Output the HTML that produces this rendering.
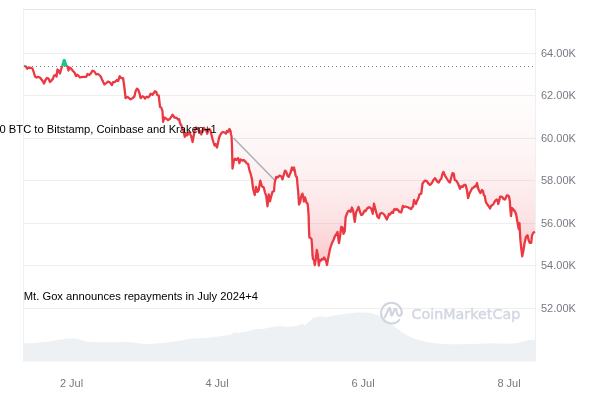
<!DOCTYPE html>
<html><head><meta charset="utf-8"><style>
html,body{margin:0;padding:0;background:#fff;width:600px;height:400px;overflow:hidden}
svg{display:block}
.ax{font-family:"Liberation Sans",Arial,sans-serif;font-size:11px;fill:#757982}
.ann{font-family:"Liberation Sans",Arial,sans-serif;font-size:11.2px;fill:#000}
.wm{font-family:"DejaVu Sans",sans-serif;font-size:14.3px;font-weight:normal;fill:#d2d7e1;stroke:#d2d7e1;stroke-width:0.45px}
</style></head><body>
<svg width="600" height="400" viewBox="0 0 600 400">
<defs>
<linearGradient id="rg" x1="0" y1="66.5" x2="0" y2="266" gradientUnits="userSpaceOnUse">
<stop offset="0" stop-color="#ea3943" stop-opacity="0"/>
<stop offset="0.25" stop-color="#ea3943" stop-opacity="0.022"/>
<stop offset="0.5" stop-color="#ea3943" stop-opacity="0.065"/>
<stop offset="0.6" stop-color="#ea3943" stop-opacity="0.09"/>
<stop offset="0.75" stop-color="#ea3943" stop-opacity="0.14"/>
<stop offset="0.9" stop-color="#ea3943" stop-opacity="0.22"/>
<stop offset="1" stop-color="#ea3943" stop-opacity="0.29"/>
</linearGradient>
<linearGradient id="gg" x1="0" y1="66.5" x2="0" y2="58" gradientUnits="userSpaceOnUse">
<stop offset="0" stop-color="#16c784" stop-opacity="0.02"/>
<stop offset="1" stop-color="#16c784" stop-opacity="0.25"/>
</linearGradient>
<clipPath id="below"><rect x="0" y="66" width="600" height="400"/></clipPath>
<clipPath id="above"><rect x="0" y="0" width="600" height="66"/></clipPath>
</defs>
<rect x="0" y="0" width="600" height="400" fill="#fff"/>
<line x1="24" x2="535" y1="53.5" y2="53.5" stroke="#efefef" stroke-width="1"/>
<line x1="24" x2="535" y1="95.5" y2="95.5" stroke="#efefef" stroke-width="1"/>
<line x1="24" x2="535" y1="138.5" y2="138.5" stroke="#efefef" stroke-width="1"/>
<line x1="24" x2="535" y1="180.5" y2="180.5" stroke="#efefef" stroke-width="1"/>
<line x1="24" x2="535" y1="223.5" y2="223.5" stroke="#efefef" stroke-width="1"/>
<line x1="24" x2="535" y1="265.5" y2="265.5" stroke="#efefef" stroke-width="1"/>
<line x1="24" x2="535" y1="308.5" y2="308.5" stroke="#efefef" stroke-width="1"/>
<line x1="20.5" x2="20.5" y1="10" y2="361" stroke="#fbfbfb"/>
<line x1="23.5" x2="23.5" y1="9" y2="361.5" stroke="#f1f1f1"/>
<line x1="535.5" x2="535.5" y1="9" y2="361.5" stroke="#f0f0f0"/>
<line x1="23" x2="536" y1="9.5" y2="9.5" stroke="#e5e5e5"/>
<path d="M23.5,360 L23.5,342.75 L28.7,343.4 L35.2,342.75 L41.7,342.3 L48.2,341.7 L54.7,340.6 L61.2,339.5 L67.7,338.4 L74.2,338.4 L80.7,339.5 L87.2,341.7 L93.7,342.3 L100.2,342.3 L106.7,342.3 L115.3,342.3 L124,342.1 L132.7,342.3 L139.2,343.4 L150,344 L160.8,342.9 L171.7,342.1 L182.5,340.3 L189,338.8 L199.8,338.2 L210.7,337.5 L221.5,336 L230.2,334.9 L234.5,332.3 L238.8,332.8 L247.5,331.2 L256.2,328.9 L262.7,329.1 L271.3,327.3 L278.7,326 L287.3,326.7 L296,326 L300.3,324.3 L302.5,323.4 L304.7,325.6 L309,321.7 L313.3,317.8 L319.8,316.3 L326.3,317.3 L332.8,315.6 L339.3,314.7 L348,313.4 L356.7,312.4 L365.3,312.4 L371.8,313 L378.3,315.6 L387,320.6 L395,327 L404.7,334.2 L414.3,338.5 L424,341.4 L433.7,343.3 L448.2,344.3 L462.7,344.3 L477.2,343.8 L491.7,343.3 L506.2,343.8 L515.8,343.3 L523.1,341.4 L526.7,340.2 L535.5,339.5 L535.5,360 Z" fill="#eef1f4"/>
<rect x="23" y="360" width="513" height="1.4" fill="#efefef"/>
<path d="M24,65.8 L26,66.6 L27.2,68.8 L28.5,67.5 L30.5,67.8 L32.5,68.5 L34,73 L35,76.5 L36.5,77.5 L38,76.8 L40,77.5 L41.5,79.5 L43,81.5 L44,83.5 L45.5,80 L47,78 L48.5,78.5 L50,82 L51.5,80.5 L53,78.5 L54,75.5 L55.5,75 L56.5,76.5 L57.5,69.5 L58.5,70.5 L60,73.5 L61,69.5 L62.2,66 L63.8,60.2 L64.6,60.2 L66.3,65.5 L67.5,66.5 L68.5,70.5 L69.5,67.5 L71,68.5 L73,71 L74.5,72.5 L76,76 L77.5,74.75 L80,77.5 L82.5,76.9 L86.25,76.9 L87.5,74 L89.4,75 L90.6,73.75 L92.5,70.6 L94.4,71.5 L96.25,74.4 L98.1,74 L100.6,76.25 L102.5,80.6 L104.4,84.4 L106.25,83.1 L108.1,81.5 L110,82.5 L111.9,85 L113.1,82.25 L115,81.9 L116.9,80 L118.1,81 L119.75,76.25 L121.25,78.1 L123.1,78.1 L124.4,87.5 L125.6,98.1 L127.5,96.9 L130.6,99.4 L132.5,98.1 L134.4,96.5 L135.6,91.25 L136.9,88.75 L138.1,89.4 L139.4,93.1 L140.6,98.1 L142.5,96.25 L143.75,96.9 L145,98.5 L146.25,96.9 L148.1,97.25 L149.4,96.25 L150.6,93.75 L152.5,94.75 L155,91.25 L156.25,91.9 L157.25,95 L158.75,95.6 L160,106.9 L161.25,107.5 L162.5,111.25 L163.1,121.9 L164.4,117.5 L166.25,118.75 L168.1,120 L170,118.75 L172.5,114.75 L174.4,117.5 L176.5,117.8 L178,119.5 L179.1,119.1 L179.9,122.5 L180.6,124.4 L181.4,125.5 L182.1,127.75 L183.5,131 L184.75,136.75 L185.9,135.25 L186.6,133.75 L187.4,135.25 L188.1,133 L188.9,132.25 L190,133.75 L191.1,136 L192.6,142 L193.4,137.5 L194.1,133.75 L194.9,130 L196,127.6 L197.5,128.1 L198.6,130 L199.4,133 L200.1,131.1 L201.25,134.5 L202,132.25 L203.1,128.5 L203.9,127.75 L205,130 L206.1,130 L207.25,133.75 L208,131.1 L209.1,128.9 L209.9,129.6 L210.6,131.1 L211.4,134.5 L212.5,139 L213.6,142.75 L214.5,145.5 L215.5,144 L217,147.5 L218,143 L219,138 L220,135.5 L221.5,133 L223,132 L224.5,132.5 L226,133.5 L227,131 L228,132 L229.5,129 L230.5,131 L231,134.5 L231.5,136 L232,146 L232.5,168.5 L233.75,161.25 L235,158.75 L236.25,160 L238.1,158.1 L239.4,163.1 L240.6,159.4 L242.5,160.6 L243.75,160 L245.6,161.9 L246.9,163.5 L248.1,164 L249.4,170 L250.6,173.75 L251.9,178.75 L253.1,188.75 L254.75,195 L256,186.9 L257.5,191.9 L258.75,190 L260.25,180.6 L261.9,186.25 L263.75,187.5 L265,192.5 L266.25,196.25 L267.5,206.25 L268.75,194.4 L270,201.25 L271.25,196.25 L272.5,191.9 L274,191.25 L274.75,182.5 L276.25,176.9 L277.75,177.5 L279.4,175.6 L281.25,176.25 L282.5,179.4 L283.75,175 L285,170.6 L286.25,171.9 L287.5,175.6 L288.75,176.9 L290.6,172.5 L291.9,167.5 L293.1,170 L294,167.5 L295,171.9 L295.6,175.6 L296.9,177.5 L297.5,185 L298.25,192.5 L299,204.5 L300.1,202.25 L301.25,196.25 L302.4,193.6 L303.35,197 L303.9,201.5 L305,197.4 L305.75,200 L306.5,202.6 L307.6,203.75 L308,207.5 L308.6,215 L309,230 L309.4,237.5 L310.5,238 L311.5,239 L312,245 L312.5,255 L313,259 L314,260 L314.8,265 L315.8,259 L316.8,250 L317.8,255 L318.8,265.5 L319.8,260 L321,260.5 L322,259 L323,259.5 L324,257.5 L325,259 L326,261 L327,265 L328,259 L329,254 L330,249 L331,246 L332,243 L333.5,240 L335,236 L336.5,234 L337.5,232 L338.5,240 L339,243 L340,237 L341.25,226.9 L342.5,227.5 L343.5,233.75 L344.75,231.25 L345.6,217.5 L346.9,213.75 L348.1,211.25 L349.4,210.6 L350.6,211.9 L351.9,207.5 L353.1,210.6 L354.75,221.9 L356,212.5 L357.25,210 L358.5,206.9 L359.75,211.25 L361.25,215 L362.75,214.4 L364.4,210.6 L365.6,211.25 L366.9,208.75 L368.5,207.5 L370,207.5 L371.25,208.75 L372.75,213.75 L374,203.75 L375.25,208.75 L376.25,212.5 L377.5,216.9 L379,218.1 L380,214 L381.5,213 L383,213.5 L384.5,215 L385.5,217 L386.8,219.5 L388,216.5 L389,214 L390,214.5 L391,213 L392,212 L393,213 L394,209.5 L395,209 L396,210 L397,209 L398,210 L399.5,212 L401,212.5 L402,210 L402.8,206 L404,207 L405.5,206.5 L407,207 L408.5,207.5 L410,208.5 L411,209 L412,207.5 L413,206.5 L414,200 L415,202 L416,204 L417,201 L418.5,198 L419.5,194.4 L421.25,193.75 L421.9,188.75 L422.5,183.75 L423.75,181.9 L425,180.6 L426.9,181.25 L428.1,183.1 L430,185 L431.25,183.75 L432.5,181.9 L433.5,180 L435,178.1 L436.25,180 L437.5,181.9 L438.75,182.5 L440,180 L441.25,178.75 L442.5,173.75 L443.5,171.9 L445,175.6 L446.9,178.75 L448.5,181.25 L450,182.5 L451.25,177.5 L452.5,173.1 L453.75,173.75 L454.75,180 L456.25,180.6 L458.1,183.75 L460,188.75 L461.25,186.25 L462.75,186.9 L464,185 L465.6,185 L466.9,190 L468.1,198.1 L469.4,193.75 L470.6,191.25 L472.25,188.1 L473.75,187.5 L475,186 L476,186.5 L477,183 L478,188 L479.5,191.5 L480.5,193 L482,190 L483,191 L483.8,195 L484.8,196 L485.8,202 L487,204 L488.5,206 L490,208.5 L491,206 L492.5,205 L493.5,204 L494.5,202 L495.5,200.5 L496.5,199.5 L497.5,200 L498.2,204 L499.2,201 L500,197 L501,196.5 L502.2,197 L503.5,199 L504.8,199.5 L505.8,198 L506.8,195.5 L508,195.5 L509,196.5 L509.8,201 L510.4,210 L511,216 L512,208 L513.7,209.75 L515.2,212 L516.25,215 L517.75,224 L518.8,229.25 L519.5,223.25 L520.3,239 L521.2,248 L522.25,256.25 L523.3,251 L524.5,243.5 L526,236.75 L527.5,235.25 L528.7,240.5 L529.75,242.75 L531.25,242.75 L532,235.5 L533.5,232.5 L535,231.8 L535,66.5 L24,66.5 Z" fill="url(#rg)" clip-path="url(#below)"/>
<path d="M24,65.8 L26,66.6 L27.2,68.8 L28.5,67.5 L30.5,67.8 L32.5,68.5 L34,73 L35,76.5 L36.5,77.5 L38,76.8 L40,77.5 L41.5,79.5 L43,81.5 L44,83.5 L45.5,80 L47,78 L48.5,78.5 L50,82 L51.5,80.5 L53,78.5 L54,75.5 L55.5,75 L56.5,76.5 L57.5,69.5 L58.5,70.5 L60,73.5 L61,69.5 L62.2,66 L63.8,60.2 L64.6,60.2 L66.3,65.5 L67.5,66.5 L68.5,70.5 L69.5,67.5 L71,68.5 L73,71 L74.5,72.5 L76,76 L77.5,74.75 L80,77.5 L82.5,76.9 L86.25,76.9 L87.5,74 L89.4,75 L90.6,73.75 L92.5,70.6 L94.4,71.5 L96.25,74.4 L98.1,74 L100.6,76.25 L102.5,80.6 L104.4,84.4 L106.25,83.1 L108.1,81.5 L110,82.5 L111.9,85 L113.1,82.25 L115,81.9 L116.9,80 L118.1,81 L119.75,76.25 L121.25,78.1 L123.1,78.1 L124.4,87.5 L125.6,98.1 L127.5,96.9 L130.6,99.4 L132.5,98.1 L134.4,96.5 L135.6,91.25 L136.9,88.75 L138.1,89.4 L139.4,93.1 L140.6,98.1 L142.5,96.25 L143.75,96.9 L145,98.5 L146.25,96.9 L148.1,97.25 L149.4,96.25 L150.6,93.75 L152.5,94.75 L155,91.25 L156.25,91.9 L157.25,95 L158.75,95.6 L160,106.9 L161.25,107.5 L162.5,111.25 L163.1,121.9 L164.4,117.5 L166.25,118.75 L168.1,120 L170,118.75 L172.5,114.75 L174.4,117.5 L176.5,117.8 L178,119.5 L179.1,119.1 L179.9,122.5 L180.6,124.4 L181.4,125.5 L182.1,127.75 L183.5,131 L184.75,136.75 L185.9,135.25 L186.6,133.75 L187.4,135.25 L188.1,133 L188.9,132.25 L190,133.75 L191.1,136 L192.6,142 L193.4,137.5 L194.1,133.75 L194.9,130 L196,127.6 L197.5,128.1 L198.6,130 L199.4,133 L200.1,131.1 L201.25,134.5 L202,132.25 L203.1,128.5 L203.9,127.75 L205,130 L206.1,130 L207.25,133.75 L208,131.1 L209.1,128.9 L209.9,129.6 L210.6,131.1 L211.4,134.5 L212.5,139 L213.6,142.75 L214.5,145.5 L215.5,144 L217,147.5 L218,143 L219,138 L220,135.5 L221.5,133 L223,132 L224.5,132.5 L226,133.5 L227,131 L228,132 L229.5,129 L230.5,131 L231,134.5 L231.5,136 L232,146 L232.5,168.5 L233.75,161.25 L235,158.75 L236.25,160 L238.1,158.1 L239.4,163.1 L240.6,159.4 L242.5,160.6 L243.75,160 L245.6,161.9 L246.9,163.5 L248.1,164 L249.4,170 L250.6,173.75 L251.9,178.75 L253.1,188.75 L254.75,195 L256,186.9 L257.5,191.9 L258.75,190 L260.25,180.6 L261.9,186.25 L263.75,187.5 L265,192.5 L266.25,196.25 L267.5,206.25 L268.75,194.4 L270,201.25 L271.25,196.25 L272.5,191.9 L274,191.25 L274.75,182.5 L276.25,176.9 L277.75,177.5 L279.4,175.6 L281.25,176.25 L282.5,179.4 L283.75,175 L285,170.6 L286.25,171.9 L287.5,175.6 L288.75,176.9 L290.6,172.5 L291.9,167.5 L293.1,170 L294,167.5 L295,171.9 L295.6,175.6 L296.9,177.5 L297.5,185 L298.25,192.5 L299,204.5 L300.1,202.25 L301.25,196.25 L302.4,193.6 L303.35,197 L303.9,201.5 L305,197.4 L305.75,200 L306.5,202.6 L307.6,203.75 L308,207.5 L308.6,215 L309,230 L309.4,237.5 L310.5,238 L311.5,239 L312,245 L312.5,255 L313,259 L314,260 L314.8,265 L315.8,259 L316.8,250 L317.8,255 L318.8,265.5 L319.8,260 L321,260.5 L322,259 L323,259.5 L324,257.5 L325,259 L326,261 L327,265 L328,259 L329,254 L330,249 L331,246 L332,243 L333.5,240 L335,236 L336.5,234 L337.5,232 L338.5,240 L339,243 L340,237 L341.25,226.9 L342.5,227.5 L343.5,233.75 L344.75,231.25 L345.6,217.5 L346.9,213.75 L348.1,211.25 L349.4,210.6 L350.6,211.9 L351.9,207.5 L353.1,210.6 L354.75,221.9 L356,212.5 L357.25,210 L358.5,206.9 L359.75,211.25 L361.25,215 L362.75,214.4 L364.4,210.6 L365.6,211.25 L366.9,208.75 L368.5,207.5 L370,207.5 L371.25,208.75 L372.75,213.75 L374,203.75 L375.25,208.75 L376.25,212.5 L377.5,216.9 L379,218.1 L380,214 L381.5,213 L383,213.5 L384.5,215 L385.5,217 L386.8,219.5 L388,216.5 L389,214 L390,214.5 L391,213 L392,212 L393,213 L394,209.5 L395,209 L396,210 L397,209 L398,210 L399.5,212 L401,212.5 L402,210 L402.8,206 L404,207 L405.5,206.5 L407,207 L408.5,207.5 L410,208.5 L411,209 L412,207.5 L413,206.5 L414,200 L415,202 L416,204 L417,201 L418.5,198 L419.5,194.4 L421.25,193.75 L421.9,188.75 L422.5,183.75 L423.75,181.9 L425,180.6 L426.9,181.25 L428.1,183.1 L430,185 L431.25,183.75 L432.5,181.9 L433.5,180 L435,178.1 L436.25,180 L437.5,181.9 L438.75,182.5 L440,180 L441.25,178.75 L442.5,173.75 L443.5,171.9 L445,175.6 L446.9,178.75 L448.5,181.25 L450,182.5 L451.25,177.5 L452.5,173.1 L453.75,173.75 L454.75,180 L456.25,180.6 L458.1,183.75 L460,188.75 L461.25,186.25 L462.75,186.9 L464,185 L465.6,185 L466.9,190 L468.1,198.1 L469.4,193.75 L470.6,191.25 L472.25,188.1 L473.75,187.5 L475,186 L476,186.5 L477,183 L478,188 L479.5,191.5 L480.5,193 L482,190 L483,191 L483.8,195 L484.8,196 L485.8,202 L487,204 L488.5,206 L490,208.5 L491,206 L492.5,205 L493.5,204 L494.5,202 L495.5,200.5 L496.5,199.5 L497.5,200 L498.2,204 L499.2,201 L500,197 L501,196.5 L502.2,197 L503.5,199 L504.8,199.5 L505.8,198 L506.8,195.5 L508,195.5 L509,196.5 L509.8,201 L510.4,210 L511,216 L512,208 L513.7,209.75 L515.2,212 L516.25,215 L517.75,224 L518.8,229.25 L519.5,223.25 L520.3,239 L521.2,248 L522.25,256.25 L523.3,251 L524.5,243.5 L526,236.75 L527.5,235.25 L528.7,240.5 L529.75,242.75 L531.25,242.75 L532,235.5 L533.5,232.5 L535,231.8 L535,66.5 L24,66.5 Z" fill="#16c784" clip-path="url(#above)"/>
<line x1="32" x2="535" y1="66.5" y2="66.5" stroke="#7f8590" stroke-width="1" stroke-dasharray="1 3"/>
<text x="23.8" y="300" class="ann">Mt. Gox announces repayments in July 2024+4</text>
<line x1="233.5" y1="138" x2="275" y2="180.5" stroke="#a9aeb8" stroke-width="1.5"/>
<path d="M24,65.8 L26,66.6 L27.2,68.8 L28.5,67.5 L30.5,67.8 L32.5,68.5 L34,73 L35,76.5 L36.5,77.5 L38,76.8 L40,77.5 L41.5,79.5 L43,81.5 L44,83.5 L45.5,80 L47,78 L48.5,78.5 L50,82 L51.5,80.5 L53,78.5 L54,75.5 L55.5,75 L56.5,76.5 L57.5,69.5 L58.5,70.5 L60,73.5 L61,69.5 L62.2,66 L63.8,60.2 L64.6,60.2 L66.3,65.5 L67.5,66.5 L68.5,70.5 L69.5,67.5 L71,68.5 L73,71 L74.5,72.5 L76,76 L77.5,74.75 L80,77.5 L82.5,76.9 L86.25,76.9 L87.5,74 L89.4,75 L90.6,73.75 L92.5,70.6 L94.4,71.5 L96.25,74.4 L98.1,74 L100.6,76.25 L102.5,80.6 L104.4,84.4 L106.25,83.1 L108.1,81.5 L110,82.5 L111.9,85 L113.1,82.25 L115,81.9 L116.9,80 L118.1,81 L119.75,76.25 L121.25,78.1 L123.1,78.1 L124.4,87.5 L125.6,98.1 L127.5,96.9 L130.6,99.4 L132.5,98.1 L134.4,96.5 L135.6,91.25 L136.9,88.75 L138.1,89.4 L139.4,93.1 L140.6,98.1 L142.5,96.25 L143.75,96.9 L145,98.5 L146.25,96.9 L148.1,97.25 L149.4,96.25 L150.6,93.75 L152.5,94.75 L155,91.25 L156.25,91.9 L157.25,95 L158.75,95.6 L160,106.9 L161.25,107.5 L162.5,111.25 L163.1,121.9 L164.4,117.5 L166.25,118.75 L168.1,120 L170,118.75 L172.5,114.75 L174.4,117.5 L176.5,117.8 L178,119.5 L179.1,119.1 L179.9,122.5 L180.6,124.4 L181.4,125.5 L182.1,127.75 L183.5,131 L184.75,136.75 L185.9,135.25 L186.6,133.75 L187.4,135.25 L188.1,133 L188.9,132.25 L190,133.75 L191.1,136 L192.6,142 L193.4,137.5 L194.1,133.75 L194.9,130 L196,127.6 L197.5,128.1 L198.6,130 L199.4,133 L200.1,131.1 L201.25,134.5 L202,132.25 L203.1,128.5 L203.9,127.75 L205,130 L206.1,130 L207.25,133.75 L208,131.1 L209.1,128.9 L209.9,129.6 L210.6,131.1 L211.4,134.5 L212.5,139 L213.6,142.75 L214.5,145.5 L215.5,144 L217,147.5 L218,143 L219,138 L220,135.5 L221.5,133 L223,132 L224.5,132.5 L226,133.5 L227,131 L228,132 L229.5,129 L230.5,131 L231,134.5 L231.5,136 L232,146 L232.5,168.5 L233.75,161.25 L235,158.75 L236.25,160 L238.1,158.1 L239.4,163.1 L240.6,159.4 L242.5,160.6 L243.75,160 L245.6,161.9 L246.9,163.5 L248.1,164 L249.4,170 L250.6,173.75 L251.9,178.75 L253.1,188.75 L254.75,195 L256,186.9 L257.5,191.9 L258.75,190 L260.25,180.6 L261.9,186.25 L263.75,187.5 L265,192.5 L266.25,196.25 L267.5,206.25 L268.75,194.4 L270,201.25 L271.25,196.25 L272.5,191.9 L274,191.25 L274.75,182.5 L276.25,176.9 L277.75,177.5 L279.4,175.6 L281.25,176.25 L282.5,179.4 L283.75,175 L285,170.6 L286.25,171.9 L287.5,175.6 L288.75,176.9 L290.6,172.5 L291.9,167.5 L293.1,170 L294,167.5 L295,171.9 L295.6,175.6 L296.9,177.5 L297.5,185 L298.25,192.5 L299,204.5 L300.1,202.25 L301.25,196.25 L302.4,193.6 L303.35,197 L303.9,201.5 L305,197.4 L305.75,200 L306.5,202.6 L307.6,203.75 L308,207.5 L308.6,215 L309,230 L309.4,237.5 L310.5,238 L311.5,239 L312,245 L312.5,255 L313,259 L314,260 L314.8,265 L315.8,259 L316.8,250 L317.8,255 L318.8,265.5 L319.8,260 L321,260.5 L322,259 L323,259.5 L324,257.5 L325,259 L326,261 L327,265 L328,259 L329,254 L330,249 L331,246 L332,243 L333.5,240 L335,236 L336.5,234 L337.5,232 L338.5,240 L339,243 L340,237 L341.25,226.9 L342.5,227.5 L343.5,233.75 L344.75,231.25 L345.6,217.5 L346.9,213.75 L348.1,211.25 L349.4,210.6 L350.6,211.9 L351.9,207.5 L353.1,210.6 L354.75,221.9 L356,212.5 L357.25,210 L358.5,206.9 L359.75,211.25 L361.25,215 L362.75,214.4 L364.4,210.6 L365.6,211.25 L366.9,208.75 L368.5,207.5 L370,207.5 L371.25,208.75 L372.75,213.75 L374,203.75 L375.25,208.75 L376.25,212.5 L377.5,216.9 L379,218.1 L380,214 L381.5,213 L383,213.5 L384.5,215 L385.5,217 L386.8,219.5 L388,216.5 L389,214 L390,214.5 L391,213 L392,212 L393,213 L394,209.5 L395,209 L396,210 L397,209 L398,210 L399.5,212 L401,212.5 L402,210 L402.8,206 L404,207 L405.5,206.5 L407,207 L408.5,207.5 L410,208.5 L411,209 L412,207.5 L413,206.5 L414,200 L415,202 L416,204 L417,201 L418.5,198 L419.5,194.4 L421.25,193.75 L421.9,188.75 L422.5,183.75 L423.75,181.9 L425,180.6 L426.9,181.25 L428.1,183.1 L430,185 L431.25,183.75 L432.5,181.9 L433.5,180 L435,178.1 L436.25,180 L437.5,181.9 L438.75,182.5 L440,180 L441.25,178.75 L442.5,173.75 L443.5,171.9 L445,175.6 L446.9,178.75 L448.5,181.25 L450,182.5 L451.25,177.5 L452.5,173.1 L453.75,173.75 L454.75,180 L456.25,180.6 L458.1,183.75 L460,188.75 L461.25,186.25 L462.75,186.9 L464,185 L465.6,185 L466.9,190 L468.1,198.1 L469.4,193.75 L470.6,191.25 L472.25,188.1 L473.75,187.5 L475,186 L476,186.5 L477,183 L478,188 L479.5,191.5 L480.5,193 L482,190 L483,191 L483.8,195 L484.8,196 L485.8,202 L487,204 L488.5,206 L490,208.5 L491,206 L492.5,205 L493.5,204 L494.5,202 L495.5,200.5 L496.5,199.5 L497.5,200 L498.2,204 L499.2,201 L500,197 L501,196.5 L502.2,197 L503.5,199 L504.8,199.5 L505.8,198 L506.8,195.5 L508,195.5 L509,196.5 L509.8,201 L510.4,210 L511,216 L512,208 L513.7,209.75 L515.2,212 L516.25,215 L517.75,224 L518.8,229.25 L519.5,223.25 L520.3,239 L521.2,248 L522.25,256.25 L523.3,251 L524.5,243.5 L526,236.75 L527.5,235.25 L528.7,240.5 L529.75,242.75 L531.25,242.75 L532,235.5 L533.5,232.5 L535,231.8" fill="none" stroke="#ea3943" stroke-width="2.3" stroke-linejoin="round" stroke-linecap="butt" clip-path="url(#below)"/>
<path d="M24,65.8 L26,66.6 L27.2,68.8 L28.5,67.5 L30.5,67.8 L32.5,68.5 L34,73 L35,76.5 L36.5,77.5 L38,76.8 L40,77.5 L41.5,79.5 L43,81.5 L44,83.5 L45.5,80 L47,78 L48.5,78.5 L50,82 L51.5,80.5 L53,78.5 L54,75.5 L55.5,75 L56.5,76.5 L57.5,69.5 L58.5,70.5 L60,73.5 L61,69.5 L62.2,66 L63.8,60.2 L64.6,60.2 L66.3,65.5 L67.5,66.5 L68.5,70.5 L69.5,67.5 L71,68.5 L73,71 L74.5,72.5 L76,76 L77.5,74.75 L80,77.5 L82.5,76.9 L86.25,76.9 L87.5,74 L89.4,75 L90.6,73.75 L92.5,70.6 L94.4,71.5 L96.25,74.4 L98.1,74 L100.6,76.25 L102.5,80.6 L104.4,84.4 L106.25,83.1 L108.1,81.5 L110,82.5 L111.9,85 L113.1,82.25 L115,81.9 L116.9,80 L118.1,81 L119.75,76.25 L121.25,78.1 L123.1,78.1 L124.4,87.5 L125.6,98.1 L127.5,96.9 L130.6,99.4 L132.5,98.1 L134.4,96.5 L135.6,91.25 L136.9,88.75 L138.1,89.4 L139.4,93.1 L140.6,98.1 L142.5,96.25 L143.75,96.9 L145,98.5 L146.25,96.9 L148.1,97.25 L149.4,96.25 L150.6,93.75 L152.5,94.75 L155,91.25 L156.25,91.9 L157.25,95 L158.75,95.6 L160,106.9 L161.25,107.5 L162.5,111.25 L163.1,121.9 L164.4,117.5 L166.25,118.75 L168.1,120 L170,118.75 L172.5,114.75 L174.4,117.5 L176.5,117.8 L178,119.5 L179.1,119.1 L179.9,122.5 L180.6,124.4 L181.4,125.5 L182.1,127.75 L183.5,131 L184.75,136.75 L185.9,135.25 L186.6,133.75 L187.4,135.25 L188.1,133 L188.9,132.25 L190,133.75 L191.1,136 L192.6,142 L193.4,137.5 L194.1,133.75 L194.9,130 L196,127.6 L197.5,128.1 L198.6,130 L199.4,133 L200.1,131.1 L201.25,134.5 L202,132.25 L203.1,128.5 L203.9,127.75 L205,130 L206.1,130 L207.25,133.75 L208,131.1 L209.1,128.9 L209.9,129.6 L210.6,131.1 L211.4,134.5 L212.5,139 L213.6,142.75 L214.5,145.5 L215.5,144 L217,147.5 L218,143 L219,138 L220,135.5 L221.5,133 L223,132 L224.5,132.5 L226,133.5 L227,131 L228,132 L229.5,129 L230.5,131 L231,134.5 L231.5,136 L232,146 L232.5,168.5 L233.75,161.25 L235,158.75 L236.25,160 L238.1,158.1 L239.4,163.1 L240.6,159.4 L242.5,160.6 L243.75,160 L245.6,161.9 L246.9,163.5 L248.1,164 L249.4,170 L250.6,173.75 L251.9,178.75 L253.1,188.75 L254.75,195 L256,186.9 L257.5,191.9 L258.75,190 L260.25,180.6 L261.9,186.25 L263.75,187.5 L265,192.5 L266.25,196.25 L267.5,206.25 L268.75,194.4 L270,201.25 L271.25,196.25 L272.5,191.9 L274,191.25 L274.75,182.5 L276.25,176.9 L277.75,177.5 L279.4,175.6 L281.25,176.25 L282.5,179.4 L283.75,175 L285,170.6 L286.25,171.9 L287.5,175.6 L288.75,176.9 L290.6,172.5 L291.9,167.5 L293.1,170 L294,167.5 L295,171.9 L295.6,175.6 L296.9,177.5 L297.5,185 L298.25,192.5 L299,204.5 L300.1,202.25 L301.25,196.25 L302.4,193.6 L303.35,197 L303.9,201.5 L305,197.4 L305.75,200 L306.5,202.6 L307.6,203.75 L308,207.5 L308.6,215 L309,230 L309.4,237.5 L310.5,238 L311.5,239 L312,245 L312.5,255 L313,259 L314,260 L314.8,265 L315.8,259 L316.8,250 L317.8,255 L318.8,265.5 L319.8,260 L321,260.5 L322,259 L323,259.5 L324,257.5 L325,259 L326,261 L327,265 L328,259 L329,254 L330,249 L331,246 L332,243 L333.5,240 L335,236 L336.5,234 L337.5,232 L338.5,240 L339,243 L340,237 L341.25,226.9 L342.5,227.5 L343.5,233.75 L344.75,231.25 L345.6,217.5 L346.9,213.75 L348.1,211.25 L349.4,210.6 L350.6,211.9 L351.9,207.5 L353.1,210.6 L354.75,221.9 L356,212.5 L357.25,210 L358.5,206.9 L359.75,211.25 L361.25,215 L362.75,214.4 L364.4,210.6 L365.6,211.25 L366.9,208.75 L368.5,207.5 L370,207.5 L371.25,208.75 L372.75,213.75 L374,203.75 L375.25,208.75 L376.25,212.5 L377.5,216.9 L379,218.1 L380,214 L381.5,213 L383,213.5 L384.5,215 L385.5,217 L386.8,219.5 L388,216.5 L389,214 L390,214.5 L391,213 L392,212 L393,213 L394,209.5 L395,209 L396,210 L397,209 L398,210 L399.5,212 L401,212.5 L402,210 L402.8,206 L404,207 L405.5,206.5 L407,207 L408.5,207.5 L410,208.5 L411,209 L412,207.5 L413,206.5 L414,200 L415,202 L416,204 L417,201 L418.5,198 L419.5,194.4 L421.25,193.75 L421.9,188.75 L422.5,183.75 L423.75,181.9 L425,180.6 L426.9,181.25 L428.1,183.1 L430,185 L431.25,183.75 L432.5,181.9 L433.5,180 L435,178.1 L436.25,180 L437.5,181.9 L438.75,182.5 L440,180 L441.25,178.75 L442.5,173.75 L443.5,171.9 L445,175.6 L446.9,178.75 L448.5,181.25 L450,182.5 L451.25,177.5 L452.5,173.1 L453.75,173.75 L454.75,180 L456.25,180.6 L458.1,183.75 L460,188.75 L461.25,186.25 L462.75,186.9 L464,185 L465.6,185 L466.9,190 L468.1,198.1 L469.4,193.75 L470.6,191.25 L472.25,188.1 L473.75,187.5 L475,186 L476,186.5 L477,183 L478,188 L479.5,191.5 L480.5,193 L482,190 L483,191 L483.8,195 L484.8,196 L485.8,202 L487,204 L488.5,206 L490,208.5 L491,206 L492.5,205 L493.5,204 L494.5,202 L495.5,200.5 L496.5,199.5 L497.5,200 L498.2,204 L499.2,201 L500,197 L501,196.5 L502.2,197 L503.5,199 L504.8,199.5 L505.8,198 L506.8,195.5 L508,195.5 L509,196.5 L509.8,201 L510.4,210 L511,216 L512,208 L513.7,209.75 L515.2,212 L516.25,215 L517.75,224 L518.8,229.25 L519.5,223.25 L520.3,239 L521.2,248 L522.25,256.25 L523.3,251 L524.5,243.5 L526,236.75 L527.5,235.25 L528.7,240.5 L529.75,242.75 L531.25,242.75 L532,235.5 L533.5,232.5 L535,231.8" fill="none" stroke="#16c784" stroke-width="2.3" stroke-linejoin="round" stroke-linecap="butt" clip-path="url(#above)"/>
<text x="-0.5" y="132.5" class="ann">0 BTC to Bitstamp, Coinbase and Kraken+1</text>
<g fill="none" stroke="#cfd4df" stroke-width="2.1" stroke-linecap="round" stroke-linejoin="round">
<path transform="translate(0,-0.5)" d="M399.3,320.4 A10.35,10.35 0 1 1 401.8,313.2 Q401.2,316.6 398.7,316.3 Q397.7,316 397.3,314.2 L396,310 Q395.2,308 394.4,310 L392.4,315.4 Q391.7,317 391.2,315.3 L390.3,309.5 Q389.7,307.3 388.8,309.3 L384.8,317.9"/>
</g>
<text x="411.5" y="319" class="wm">CoinMarketCap</text>
<text x="541" y="56.8" class="ax">64.00K</text>
<text x="541" y="98.8" class="ax">62.00K</text>
<text x="541" y="141.8" class="ax">60.00K</text>
<text x="541" y="183.8" class="ax">58.00K</text>
<text x="541" y="226.8" class="ax">56.00K</text>
<text x="541" y="268.8" class="ax">54.00K</text>
<text x="541" y="311.8" class="ax">52.00K</text>
<text x="71.5" y="387" class="ax" text-anchor="middle">2 Jul</text>
<text x="217" y="387" class="ax" text-anchor="middle">4 Jul</text>
<text x="363" y="387" class="ax" text-anchor="middle">6 Jul</text>
<text x="509" y="387" class="ax" text-anchor="middle">8 Jul</text>
</svg>
</body></html>
